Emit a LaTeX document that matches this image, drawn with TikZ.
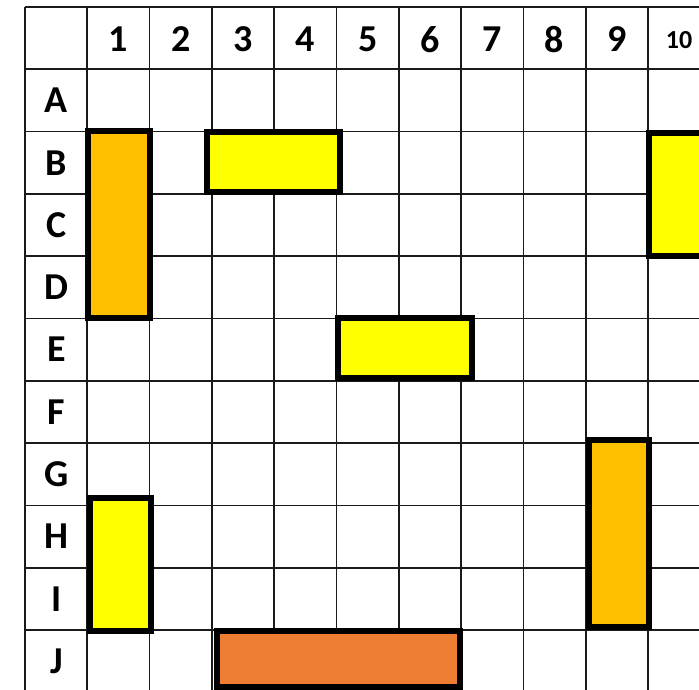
\documentclass[tikz,border=0pt]{standalone}
\usepackage{fontspec}
\setmainfont{Carlito}
\definecolor{shipyellow}{HTML}{FFFF00}
\definecolor{shiporange}{HTML}{FFC000}
\definecolor{shipred}{HTML}{ED7D31}
\definecolor{gridcol}{HTML}{1A1A1A}
\begin{document}
\begin{tikzpicture}[x=1pt,y=-1pt,
  gridline/.style={draw=gridcol,line width=1.7pt},
  ship/.style={draw=black,line width=5.5pt},
  lbl/.style={font=\fontsize{38}{38}\selectfont\bfseries,inner sep=0pt,anchor=center},
  lblsmall/.style={font=\fontsize{26}{26}\selectfont\bfseries,inner sep=0pt,anchor=center}]
\useasboundingbox (0,0) rectangle (699,690);
\clip (0,0) rectangle (699,690);
\fill[white] (0,0) rectangle (699,690);
% grid
\foreach \i in {0,...,11} {
  \draw[gridline] ({25+62.3*\i},7) -- ({25+62.3*\i},720);
  \draw[gridline] (25,{7+62.3*\i}) -- (730,{7+62.3*\i});
}
% column labels
\foreach \c [count=\k] in {1,...,9} {
  \node[lbl] (col\c) at ({25+62.3*\k+31.15},39.5) {\c};
}
\node[lblsmall] (col10) at ({25+62.3*10+31.15},40) {10};
% row labels
\foreach \r [count=\k] in {A,B,C,D,E,F,G,H,I,J} {
  \node[lbl] (row\r) at (56.5,{7+62.3*\k+31.15}) {\r};
}
% ships
\filldraw[ship,fill=shiporange] (88,131) rectangle (150,318);
\filldraw[ship,fill=shipyellow] (207,132) rectangle (340,192);
\filldraw[ship,fill=shipyellow] (649,133) rectangle (730,256);
\filldraw[ship,fill=shipyellow] (338,318) rectangle (472,378);
\filldraw[ship,fill=shiporange] (589,440) rectangle (649,627);
\filldraw[ship,fill=shipyellow] (90,498) rectangle (151,631);
\filldraw[ship,fill=shipred] (217,631) rectangle (460,687);
\end{tikzpicture}
\end{document}
